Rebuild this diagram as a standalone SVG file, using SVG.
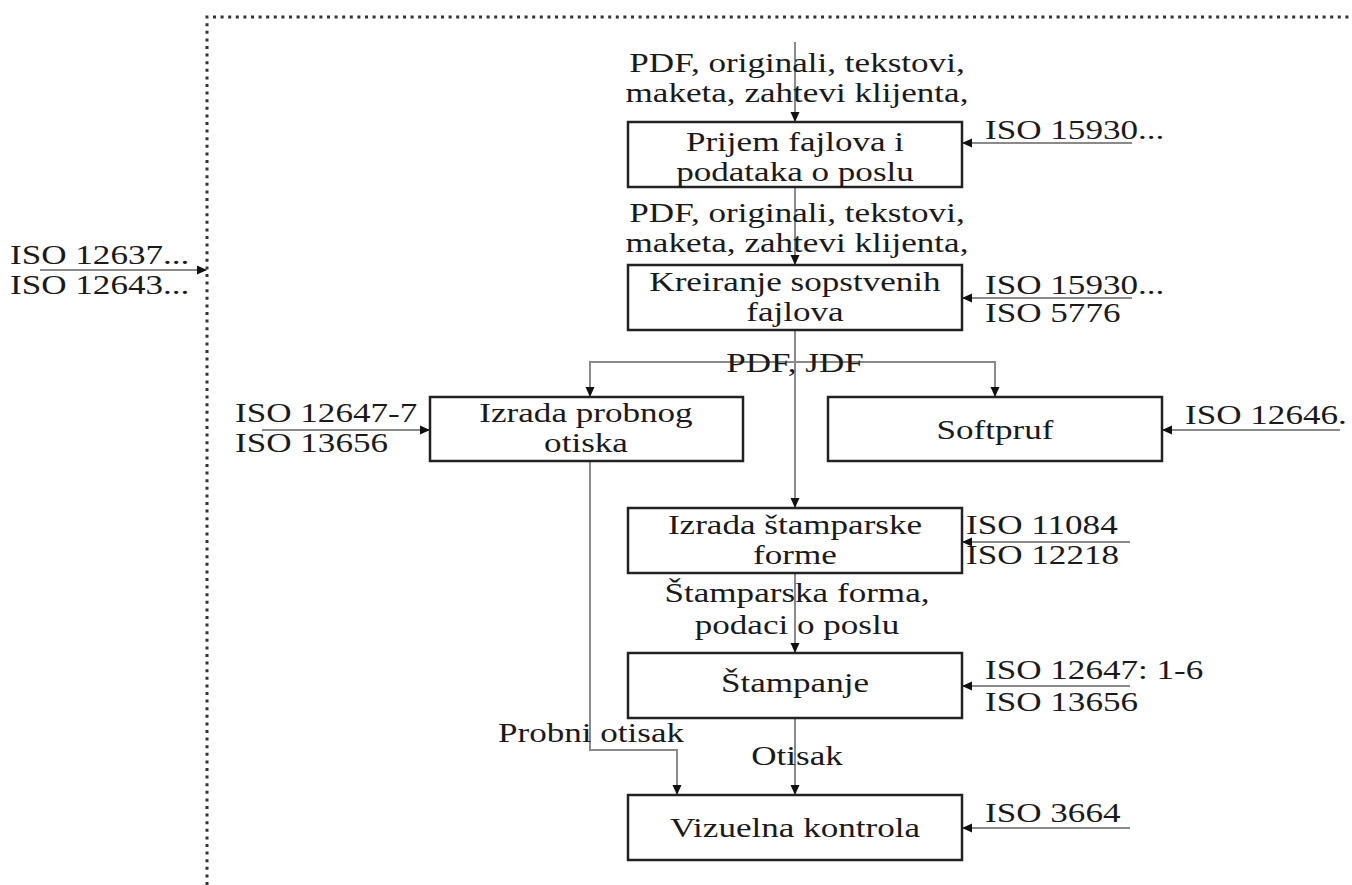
<svg xmlns="http://www.w3.org/2000/svg" width="1352" height="885" viewBox="0 0 1352 885">
<style>
text{font-family:"Liberation Serif","Times New Roman",serif;font-size:27px;fill:#1a1a1a}
.c{text-anchor:middle}
.box{fill:#fff;stroke:#222;stroke-width:2.5}
.ln{fill:none;stroke:#8a8a8a;stroke-width:2}
.dot{fill:none;stroke:#333;stroke-width:3;stroke-dasharray:3 4.6}
</style>
<defs>
<marker id="ah" markerWidth="10" markerHeight="10" refX="9" refY="5" orient="auto" markerUnits="userSpaceOnUse">
<path d="M0,0.5 L10,5 L0,9.5 z" fill="#111"/>
</marker>
</defs>
<rect width="1352" height="885" fill="#fff"/>
<g id="frame">
<path class="dot" d="M207,885 V17 H1352"/>
</g>
<g id="connectors">
<path class="ln" d="M795,42 V121" marker-end="url(#ah)"/>
<path class="ln" d="M795,187 V264" marker-end="url(#ah)"/>
<path class="ln" d="M795,330 V507" marker-end="url(#ah)"/>
<path class="ln" d="M795,362 H995 V396" marker-end="url(#ah)"/>
<path class="ln" d="M795,362 H590 V396" marker-end="url(#ah)"/>
<path class="ln" d="M795,573 V652" marker-end="url(#ah)"/>
<path class="ln" d="M795,719 V794" marker-end="url(#ah)"/>
<path class="ln" d="M590,461 V750 H677 V794" marker-end="url(#ah)"/>
<path class="ln" d="M1132,143 H963" marker-end="url(#ah)"/>
<path class="ln" d="M1132,298 H963" marker-end="url(#ah)"/>
<path class="ln" d="M262,430 H429" marker-end="url(#ah)"/>
<path class="ln" d="M1340,430 H1163" marker-end="url(#ah)"/>
<path class="ln" d="M1130,542 H963" marker-end="url(#ah)"/>
<path class="ln" d="M1130,686 H963" marker-end="url(#ah)"/>
<path class="ln" d="M1130,828 H963" marker-end="url(#ah)"/>
<path class="ln" d="M40,270 H206" marker-end="url(#ah)"/>
</g>
<g id="labels">
<text class="c" transform="translate(797,72) scale(1.3,1)">PDF, originali, tekstovi,</text>
<text class="c" transform="translate(797,102) scale(1.3,1)">maketa, zahtevi klijenta,</text>
<text class="c" transform="translate(797,222) scale(1.3,1)">PDF, originali, tekstovi,</text>
<text class="c" transform="translate(797,252) scale(1.3,1)">maketa, zahtevi klijenta,</text>
<text class="c" transform="translate(795,372) scale(1.3,1)">PDF, JDF</text>
<text class="c" transform="translate(797,602) scale(1.3,1)">Štamparska forma,</text>
<text class="c" transform="translate(797,634) scale(1.3,1)">podaci o poslu</text>
<text transform="translate(498,742) scale(1.3,1)">Probni otisak</text>
<text class="c" transform="translate(797,765) scale(1.3,1)">Otisak</text>
<text transform="translate(985,139) scale(1.3,1)">ISO 15930...</text>
<text transform="translate(985,294) scale(1.3,1)">ISO 15930...</text>
<text transform="translate(985,322) scale(1.3,1)">ISO 5776</text>
<text transform="translate(235,422) scale(1.3,1)">ISO 12647-7</text>
<text transform="translate(235,452) scale(1.3,1)">ISO 13656</text>
<text transform="translate(1185,424) scale(1.3,1)">ISO 12646.</text>
<text transform="translate(966,534) scale(1.3,1)">ISO 11084</text>
<text transform="translate(966,564) scale(1.3,1)">ISO 12218</text>
<text transform="translate(985,679) scale(1.3,1)">ISO 12647: 1-6</text>
<text transform="translate(985,711) scale(1.3,1)">ISO 13656</text>
<text transform="translate(985,822) scale(1.3,1)">ISO 3664</text>
<text transform="translate(10,264) scale(1.3,1)">ISO 12637...</text>
<text transform="translate(10,294) scale(1.3,1)">ISO 12643...</text>
</g>
<g id="n1"><rect class="box" x="628" y="122" width="334" height="65"/>
<text class="c" transform="translate(795,151) scale(1.3,1)">Prijem fajlova i</text>
<text class="c" transform="translate(795,181) scale(1.3,1)">podataka o poslu</text></g>
<g id="n2"><rect class="box" x="628" y="265" width="334" height="65"/>
<text class="c" transform="translate(795,291) scale(1.3,1)">Kreiranje sopstvenih</text>
<text class="c" transform="translate(795,321) scale(1.3,1)">fajlova</text></g>
<g id="n3"><rect class="box" x="430" y="397" width="313" height="64"/>
<text class="c" transform="translate(586,422) scale(1.3,1)">Izrada probnog</text>
<text class="c" transform="translate(586,452) scale(1.3,1)">otiska</text></g>
<g id="n4"><rect class="box" x="828" y="397" width="334" height="64"/>
<text class="c" transform="translate(995,439) scale(1.3,1)">Softpruf</text></g>
<g id="n5"><rect class="box" x="628" y="508" width="334" height="65"/>
<text class="c" transform="translate(795,534) scale(1.3,1)">Izrada štamparske</text>
<text class="c" transform="translate(795,564) scale(1.3,1)">forme</text></g>
<g id="n6"><rect class="box" x="628" y="653" width="334" height="65"/>
<text class="c" transform="translate(795,692) scale(1.3,1)">Štampanje</text></g>
<g id="n7"><rect class="box" x="628" y="795" width="334" height="65"/>
<text class="c" transform="translate(795,837) scale(1.3,1)">Vizuelna kontrola</text></g>
</svg>
